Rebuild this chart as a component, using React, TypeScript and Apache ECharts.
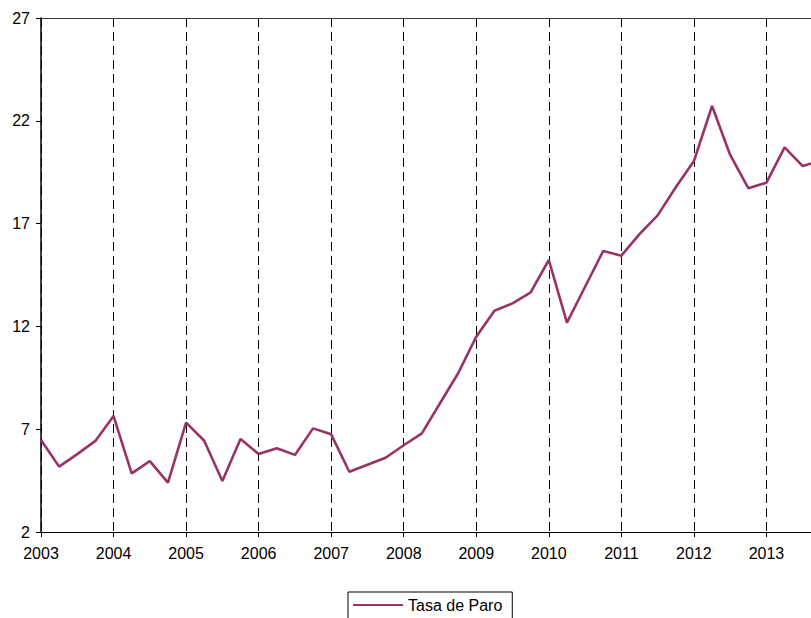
import React, { useEffect, useRef } from "react";
import * as echarts from "echarts";

const SERIES_NAME = "Tasa de Paro";
const START_YEAR = 2003;
// Quarterly values, 2003 T1 .. 2013 T4
const values2003 = [6.47, 5.18, 5.79, 6.43];
const values2004 = [7.64, 4.85, 5.45, 4.4];
const values2005 = [7.32, 6.44, 4.48, 6.52];
const values2006 = [5.79, 6.07, 5.75, 7.04];
const values2007 = [6.75, 4.93, 5.27, 5.61];
const values2008 = [6.22, 6.8, 8.26, 9.72];
const values2009 = [11.5, 12.76, 13.12, 13.66];
const values2010 = [15.23, 12.18, 13.93, 15.67];
const values2011 = [15.44, 16.49, 17.4, 18.77];
const values2012 = [20.04, 22.72, 20.34, 18.72];
const values2013 = [18.99, 20.71, 19.8, 20.07];
const yTicks = [2, 7, 12, 17, 22, 27];
const xMin = 2003;
const xMax = 2014;

const allValues = [
  ...values2003, ...values2004, ...values2005, ...values2006,
  ...values2007, ...values2008, ...values2009, ...values2010,
  ...values2011, ...values2012, ...values2013,
];

const CHART_W = 839;
const CHART_H = 618;

export default function App() {
  const ref = useRef<HTMLDivElement>(null);
  useEffect(() => {
    if (!ref.current) return;
    const chart = echarts.init(ref.current, null, { renderer: "svg", width: CHART_W, height: CHART_H });
    const font = "'Liberation Sans', Arial, sans-serif";
    const data = allValues.map((v, i) => [START_YEAR + i / 4, v]);
    chart.setOption({
      animation: false,
      backgroundColor: "#fff",
      grid: { left: 41, top: 18, right: 0, bottom: 86, containLabel: false },
      legend: {
        show: true,
        left: 348,
        top: 592,
        data: [SERIES_NAME],
        icon: "rect",
        itemWidth: 50,
        itemHeight: 2,
        backgroundColor: "#fff",
        borderColor: "#000",
        borderWidth: 1,
        borderRadius: 0,
        padding: [5, 10, 20, 5],
        textStyle: { fontFamily: font, fontSize: 16, color: "#000" },
      },
      xAxis: [
        {
          type: "value",
          min: xMin,
          max: xMax,
          interval: 1,
          axisLine: { show: true, lineStyle: { color: "#000", width: 1 } },
          axisTick: { show: true, length: 5, lineStyle: { color: "#000" } },
          axisLabel: {
            margin: 13,
            fontFamily: font,
            fontSize: 16,
            color: "#000",
            showMaxLabel: false,
            formatter: (v: number) => String(v),
          },
          splitLine: {
            show: true,
            lineStyle: { color: "#000", width: 1, type: [9, 5] },
          },
        },
        {
          type: "value",
          position: "top",
          min: xMin,
          max: xMax,
          interval: 1,
          axisLine: { show: true, onZero: false, lineStyle: { color: "#333", width: 1 } },
          axisTick: { show: false },
          axisLabel: { show: false },
          splitLine: { show: false },
        },
      ],
      yAxis: {
        type: "value",
        min: 2,
        max: 27,
        axisLine: { show: true, onZero: false, lineStyle: { color: "#000", width: 1.5 } },
        axisTick: { show: true, length: 5, customValues: yTicks, lineStyle: { color: "#000" } },
        axisLabel: {
          margin: 11,
          fontFamily: font,
          fontSize: 16,
          color: "#000",
          customValues: yTicks,
        },
        splitLine: { show: false },
      },
      series: [
        {
          name: SERIES_NAME,
          type: "line",
          xAxisIndex: 0,
          data,
          showSymbol: false,
          symbol: "none",
          clip: true,
          lineStyle: { color: "#993366", width: 2.6 },
          itemStyle: { color: "#993366" },
        },
      ],
    });
    return () => chart.dispose();
  }, []);
  return (
    <div
      style={{ position: "absolute", left: 0, top: 0, width: 811, height: 618, overflow: "hidden", background: "#fff" }}
    >
      <div ref={ref} style={{ position: "absolute", left: 0, top: 0, width: CHART_W, height: CHART_H, maxWidth: "none" }} />
    </div>
  );
}
